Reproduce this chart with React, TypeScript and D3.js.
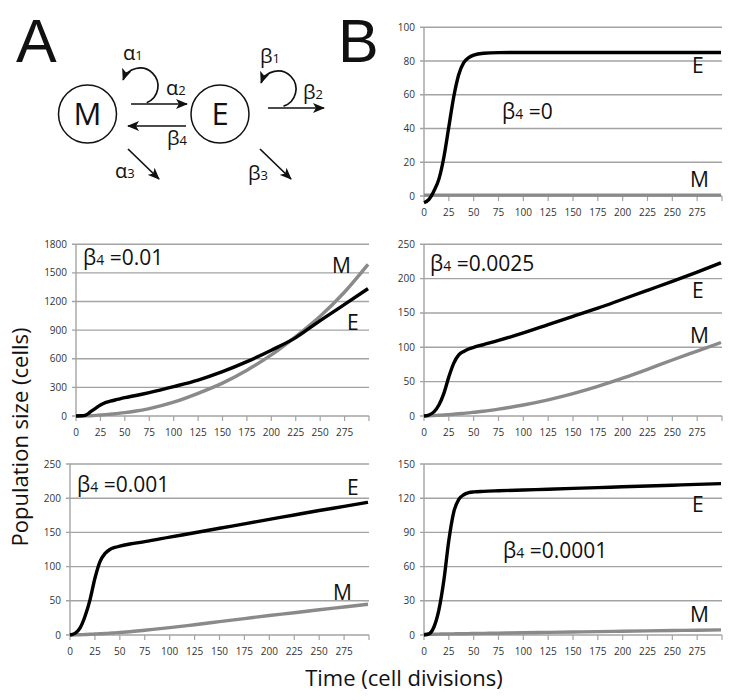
import React from "react";
import * as d3 from "d3";

// time points (cell divisions)
const T = [0, 5, 10, 15, 20, 25, 30, 35, 40, 45, 50, 60, 75, 100, 125, 150, 175, 200, 225, 250, 275, 299];
const X_TICKS = [0, 25, 50, 75, 100, 125, 150, 175, 200, 225, 250, 275, 300];
const X_TICK_LABELS = ["0", "25", "50", "75", "100", "125", "150", "175", "200", "225", "250", "275"];

// beta4 = 0
const E_b0 = [-4, -2, 3, 10, 23, 41, 59, 72, 79, 82, 83.5, 84.6, 85, 85.1, 85.1, 85.1, 85.1, 85.1, 85.1, 85.1, 85.1, 85.1];
const M_b0 = [0.5, 0.5, 0.5, 0.5, 0.5, 0.5, 0.5, 0.5, 0.5, 0.5, 0.5, 0.5, 0.5, 0.5, 0.5, 0.5, 0.5, 0.5, 0.5, 0.5, 0.5, 0.5];
// beta4 = 0.01
const E_b001 = [0, 2, 10, 45, 80, 115, 140, 155, 168, 180, 192, 212, 245, 308, 377, 465, 570, 690, 822, 1000, 1170, 1335];
const M_b001 = [0, 0.5, 1, 3, 6, 10, 14, 19, 24, 30, 36, 50, 78, 145, 238, 345, 480, 640, 832, 1045, 1300, 1590];
// beta4 = 0.0025
const E_b00025 = [0, 1.5, 6, 16, 33, 57, 77, 89, 94, 97.5, 100, 104, 110, 121, 133, 145, 157, 170, 183, 196, 209.5, 223];
const M_b00025 = [0, 0.3, 0.7, 1.1, 1.5, 2, 2.6, 3.2, 3.9, 4.6, 5.4, 7, 10, 16, 23.5, 32.5, 43, 55, 68, 81.5, 94.5, 107];
// beta4 = 0.001
const E_b0001 = [0, 2.4, 10, 27, 51, 83, 107, 119, 125, 128, 130, 133, 136.5, 143, 149.5, 156, 162.5, 169, 175.5, 182, 188, 194];
const M_b0001 = [0, 0.2, 0.4, 0.7, 1, 1.4, 1.8, 2.2, 2.7, 3.1, 3.6, 4.8, 7, 10.7, 15, 19.5, 24, 28.5, 32.5, 37, 41, 45];
// beta4 = 0.0001
const E_b00001 = [0, 1, 7, 22, 48, 83, 108, 119, 123, 124.8, 125.5, 126, 126.5, 127.2, 127.9, 128.6, 129.3, 130, 130.7, 131.4, 132.1, 132.8];
const M_b00001 = [0.6, 0.7, 0.7, 0.8, 0.9, 0.9, 1, 1.1, 1.1, 1.2, 1.3, 1.4, 1.6, 2, 2.3, 2.6, 3, 3.3, 3.6, 3.9, 4.2, 4.5];

const Y_TICKS_b0 = [0, 20, 40, 60, 80, 100];
const Y_TICKS_b001 = [0, 300, 600, 900, 1200, 1500, 1800];
const Y_TICKS_250 = [0, 50, 100, 150, 200, 250];
const Y_TICKS_150 = [0, 30, 60, 90, 120, 150];

const FONT = "'Open Sans', 'Noto Sans', sans-serif";
const GRID = "#a3a3a3";

type PanelProps = {
  x0: number; x1: number; yTop: number; yBot: number;
  yTicks: number[]; E: number[]; M: number[];
  beta: string; betaPos: [number, number];
  ePos: [number, number]; mPos: [number, number];
};

function Beta({ x, y, sub, rest, size, subSize }: { x: number; y: number; sub: string; rest: string; size: number; subSize: number }) {
  return (
    <text x={x} y={y} fontFamily={FONT} fontSize={size} fill="#111">
      <tspan>β</tspan>
      <tspan fontSize={subSize}>{sub}</tspan>
      {rest ? <tspan>{rest}</tspan> : null}
    </text>
  );
}

function Panel(p: PanelProps) {
  const x = d3.scaleLinear().domain([0, 300]).range([p.x0, p.x1]);
  const yMax = p.yTicks[p.yTicks.length - 1];
  const y = d3.scaleLinear().domain([0, yMax]).range([p.yBot, p.yTop]);
  const line = d3.line<number>().x((_, i) => x(T[i])).y((v) => y(v)).curve(d3.curveMonotoneX);
  return (
    <g>
      {p.yTicks.map((t) => (
        <g key={"g" + t}>
          <line x1={p.x0 - 4} x2={p.x1} y1={y(t)} y2={y(t)} stroke={GRID} strokeWidth={1.4} />
          <text x={p.x0 - 9} y={y(t)} dy="0.35em" textAnchor="end" fontFamily={FONT} fontSize={10} fill="#333">{t}</text>
        </g>
      ))}
      <line x1={p.x0} x2={p.x0} y1={p.yTop} y2={p.yBot} stroke={GRID} strokeWidth={1.4} />
      {X_TICKS.map((t) => (
        <line key={"xt" + t} x1={x(t)} x2={x(t)} y1={p.yBot} y2={p.yBot + 5} stroke={GRID} strokeWidth={1.2} />
      ))}
      {X_TICK_LABELS.map((s, i) => (
        <text key={"xl" + s} x={x(X_TICKS[i])} y={p.yBot + 20} textAnchor="middle" fontFamily={FONT} fontSize={10} fill="#333">{s}</text>
      ))}
      <path d={line(p.M) || ""} fill="none" stroke="#8a8a8a" strokeWidth={3.4} />
      <path d={line(p.E) || ""} fill="none" stroke="#000" strokeWidth={3.4} />
      <Beta x={p.betaPos[0]} y={p.betaPos[1]} sub="4" rest={" =" + p.beta} size={21} subSize={14} />
      <text x={p.ePos[0]} y={p.ePos[1]} fontFamily={FONT} fontSize={21} fill="#111">E</text>
      <text x={p.mPos[0]} y={p.mPos[1]} fontFamily={FONT} fontSize={21} fill="#111">M</text>
    </g>
  );
}

function GreekLabel({ x, y, ch, sub }: { x: number; y: number; ch: string; sub: string }) {
  return (
    <text x={x} y={y} fontFamily={FONT} fontSize={20} fill="#111">
      <tspan>{ch}</tspan>
      <tspan fontSize={13}>{sub}</tspan>
    </text>
  );
}

function Diagram() {
  const arcPath = (cx: number, cy: number, r: number, a0: number, a1: number) => {
    const rad = Math.PI / 180;
    const sx = cx + r * Math.cos(a0 * rad), sy = cy + r * Math.sin(a0 * rad);
    const ex = cx + r * Math.cos(a1 * rad), ey = cy + r * Math.sin(a1 * rad);
    return `M${sx},${sy} A${r},${r} 0 1 0 ${ex},${ey}`;
  };
  const sw = 1.7;
  return (
    <g>
      <defs>
        <marker id="arr" viewBox="0 0 12 10" refX={11} refY={5} markerWidth={12} markerHeight={10} markerUnits="userSpaceOnUse" orient="auto">
          <path d="M0,0 L12,5 L0,10 L3,5 z" fill="#111" />
        </marker>
      </defs>
      <text x={16} y={62} fontFamily="'Liberation Sans', Arial, sans-serif" fontSize={61} fill="#111">A</text>
      <text x={338} y={62} fontFamily="'Liberation Sans', Arial, sans-serif" fontSize={61} fill="#111">B</text>
      <circle cx={87.5} cy={114} r={29} fill="none" stroke="#111" strokeWidth={1.5} />
      <circle cx={220} cy={114} r={29} fill="none" stroke="#111" strokeWidth={1.5} />
      <text x={87.5} y={114} dy="0.36em" textAnchor="middle" fontFamily={FONT} fontSize={31} fill="#111">M</text>
      <text x={220} y={114} dy="0.36em" textAnchor="middle" fontFamily={FONT} fontSize={31} fill="#111">E</text>
      {/* alpha2 */}
      <line x1={131} y1={104} x2={187} y2={104} stroke="#111" strokeWidth={sw} markerEnd="url(#arr)" />
      {/* beta4 */}
      <line x1={186} y1={126} x2={128} y2={126} stroke="#111" strokeWidth={sw} markerEnd="url(#arr)" />
      {/* alpha1 loop */}
      <path d={arcPath(140, 86, 18, 68, -160)} fill="none" stroke="#111" strokeWidth={sw} markerEnd="url(#arr)" />
      {/* alpha3 */}
      <line x1={128} y1={149} x2={159} y2={179} stroke="#111" strokeWidth={sw} markerEnd="url(#arr)" />
      {/* beta1 loop */}
      <path d={arcPath(278, 89, 18, 72, -160)} fill="none" stroke="#111" strokeWidth={sw} markerEnd="url(#arr)" />
      {/* beta2 */}
      <line x1={268} y1={108} x2={324} y2={108} stroke="#111" strokeWidth={sw} markerEnd="url(#arr)" />
      {/* beta3 */}
      <line x1={260} y1={149} x2={291} y2={179} stroke="#111" strokeWidth={sw} markerEnd="url(#arr)" />
      <GreekLabel x={123} y={60} ch="α" sub="1" />
      <GreekLabel x={166} y={95} ch="α" sub="2" />
      <GreekLabel x={167} y={145} ch="β" sub="4" />
      <GreekLabel x={115} y={178} ch="α" sub="3" />
      <GreekLabel x={260} y={63} ch="β" sub="1" />
      <GreekLabel x={303} y={99} ch="β" sub="2" />
      <GreekLabel x={248} y={180} ch="β" sub="3" />
    </g>
  );
}

export default function App() {
  return (
    <svg width={735} height={700} style={{ position: "absolute", left: 0, top: 0, background: "#fff" }}>
      <rect width={735} height={700} fill="#fff" />
      <Diagram />
      <Panel x0={424} x1={722} yTop={27.3} yBot={196} yTicks={Y_TICKS_b0} E={E_b0} M={M_b0}
        beta="0" betaPos={[502, 119]} ePos={[692, 73]} mPos={[690, 187]} />
      <Panel x0={76} x1={369} yTop={244.3} yBot={416} yTicks={Y_TICKS_b001} E={E_b001} M={M_b001}
        beta="0.01" betaPos={[83, 265]} ePos={[347, 330]} mPos={[332, 273]} />
      <Panel x0={424} x1={722} yTop={244.3} yBot={416} yTicks={Y_TICKS_250} E={E_b00025} M={M_b00025}
        beta="0.0025" betaPos={[430, 271]} ePos={[692, 298]} mPos={[690, 343]} />
      <Panel x0={70} x1={369} yTop={464} yBot={635} yTicks={Y_TICKS_250} E={E_b0001} M={M_b0001}
        beta="0.001" betaPos={[77, 492]} ePos={[347, 495]} mPos={[333, 600]} />
      <Panel x0={424} x1={722} yTop={464} yBot={635} yTicks={Y_TICKS_150} E={E_b00001} M={M_b00001}
        beta="0.0001" betaPos={[503, 558]} ePos={[692, 512]} mPos={[690, 622]} />
      <text transform="translate(28,437) rotate(-90)" textAnchor="middle" fontFamily={FONT} fontSize={22} fill="#111">Population size (cells)</text>
      <text x={404} y={686} textAnchor="middle" fontFamily={FONT} fontSize={22} fill="#111">Time (cell divisions)</text>
    </svg>
  );
}
